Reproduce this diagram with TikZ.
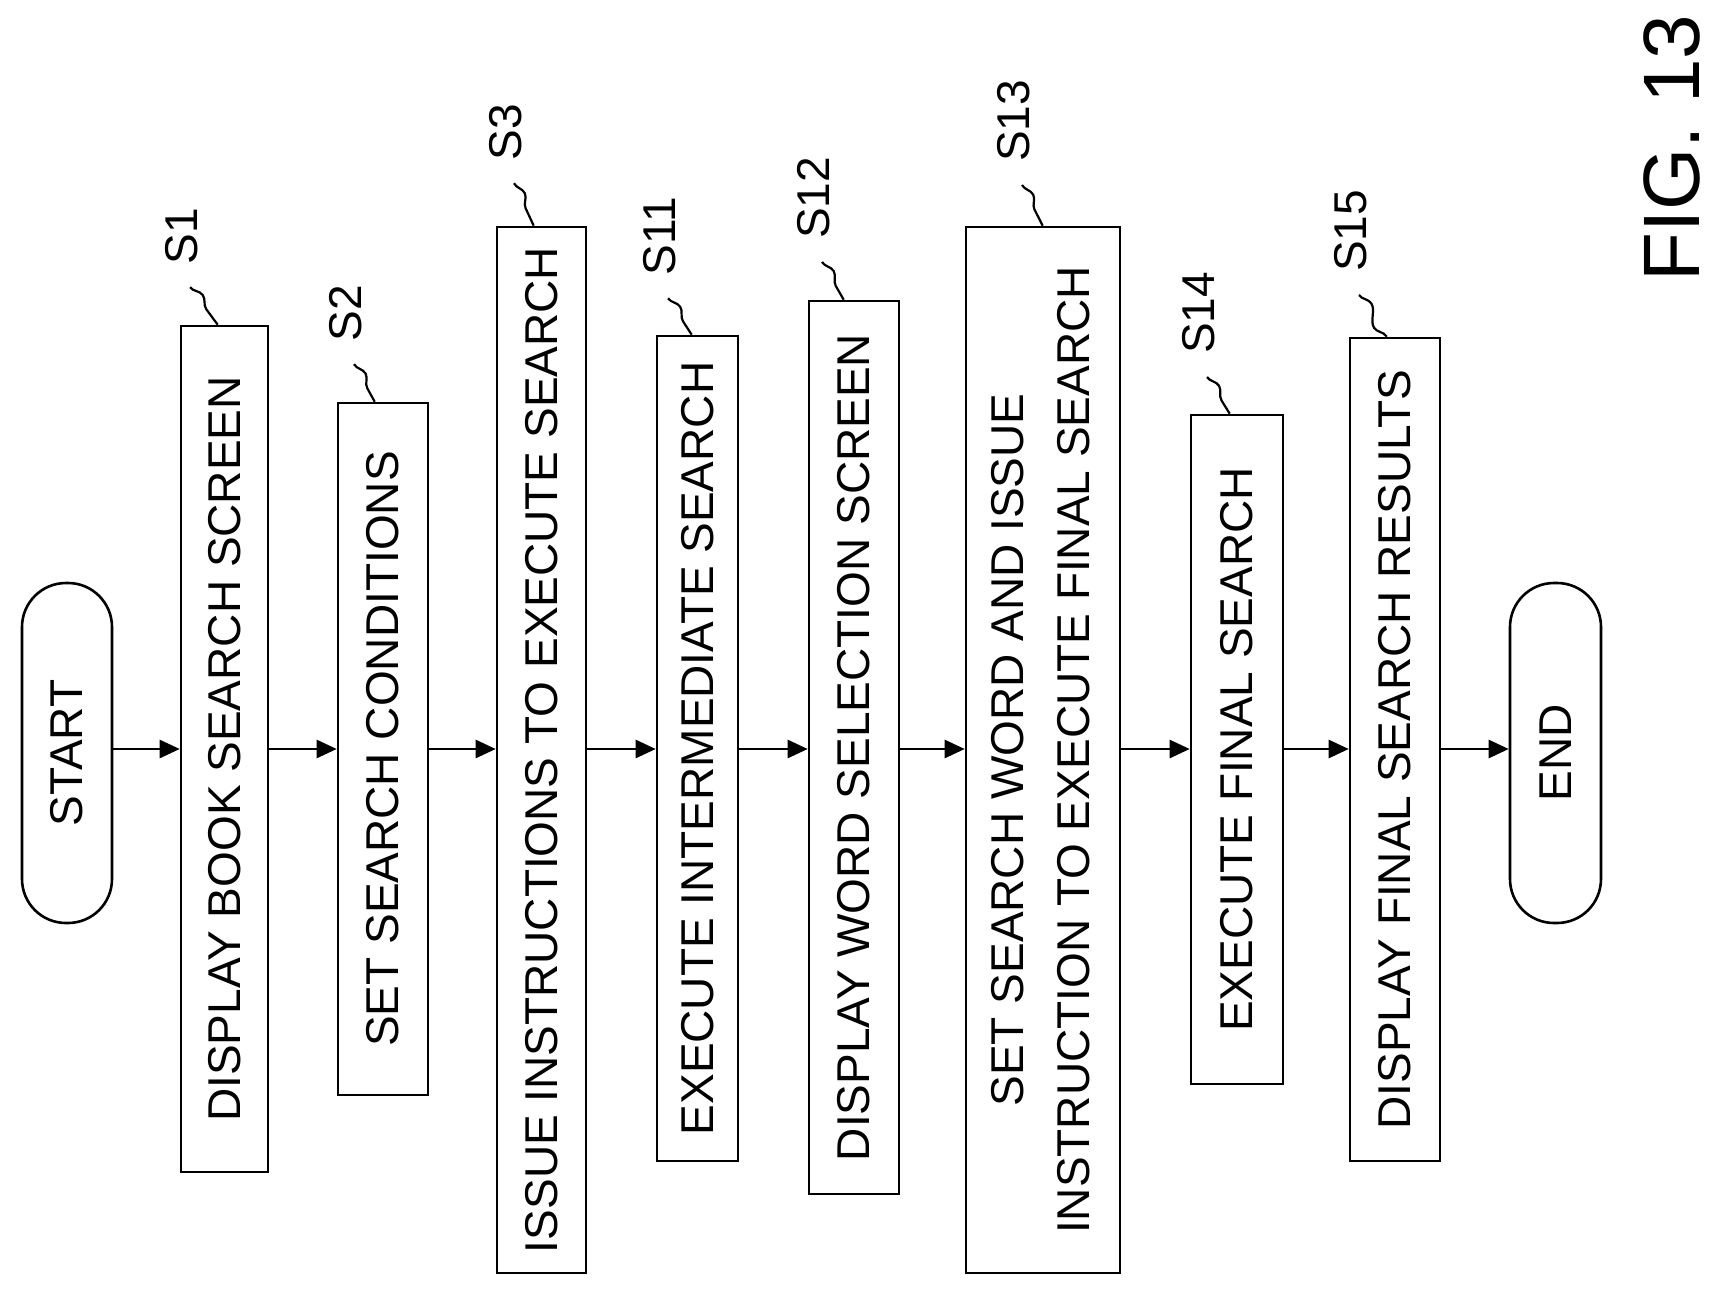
\documentclass[tikz,border=0pt]{standalone}
\usepackage{fontspec}
\setmainfont{Liberation Sans}
\usetikzlibrary{arrows.meta,decorations.pathmorphing}
\begin{document}
\begin{tikzpicture}[x=0.5pt,y=-0.5pt,
  box/.style={draw,line width=1.3pt,inner sep=0pt,font=\fontsize{23}{33}\selectfont},
  term/.style={box,rounded corners=22pt},
  arr/.style={line width=1.3pt,-{Triangle[length=10pt,width=9pt]}},
  lbl/.style={font=\fontsize{23}{28}\selectfont,rotate=90},
  sq/.style={line width=1.1pt,decorate,decoration={snake,segment length=22pt,amplitude=2.8pt}}]
\useasboundingbox (0,0) rectangle (1720,1291);
\newcommand{\bx}[7]{\node[#1,minimum width=#4pt,minimum height=#5pt] (#2) at (#3) {\rotatebox{90}{#6}};}
\bx{term}{start}{67,753}{45}{170}{START}{}
\bx{box}{s1}{224.5,749}{43.5}{423}{DISPLAY BOOK SEARCH SCREEN}{}
\bx{box}{s2}{383,749}{45}{346}{SET SEARCH CONDITIONS}{}
\bx{box}{s3}{541.5,750}{44.5}{523}{ISSUE INSTRUCTIONS TO EXECUTE SEARCH}{}
\bx{box}{s11}{697.5,748.5}{40.5}{412.5}{EXECUTE INTERMEDIATE SEARCH}{}
\bx{box}{s12}{854,747.5}{45}{446.5}{DISPLAY WORD SELECTION SCREEN}{}
\bx{box}{s13}{1043,750}{77}{523}{\begin{tabular}{@{}c@{}}SET SEARCH WORD AND ISSUE\\INSTRUCTION TO EXECUTE FINAL SEARCH\end{tabular}}{}
\bx{box}{s14}{1237,749.5}{46}{334.5}{EXECUTE FINAL SEARCH}{}
\bx{box}{s15}{1395,749.5}{45}{411.5}{DISPLAY FINAL SEARCH RESULTS}{}
\bx{term}{end}{1555.5,753}{45.5}{170}{END}{}
\coordinate (yl) at (0,749);
\foreach \a/\b in {start/s1,s1/s2,s2/s3,s3/s11,s11/s12,s12/s13,s13/s14,s14/s15,s15/end}
  \draw[arr] (\a.east |- yl) -- (\b.west |- yl);
\foreach \n/\t/\x/\y/\bxn/\off in {l1/S1/182/236/s1/19, l2/S2/346/313/s2/19, l3/S3/506/132/s3/19, l11/S11/660/236/s11/18, l12/S12/814/198/s12/18, l13/S13/1014/121/s13/39, l14/S14/1199/313/s14/20, l15/S15/1351/231/s15/19}{
  \node[lbl] (\n) at (\x,\y) {\t};
  \draw[sq] ([xshift=4pt,yshift=-8pt]\n.west) -- ([xshift=\off]\bxn.north west);
}
\node[font=\fontsize{40}{44}\selectfont,rotate=90] (fig) at (1672,148) {FIG. 13};
\end{tikzpicture}
\end{document}
